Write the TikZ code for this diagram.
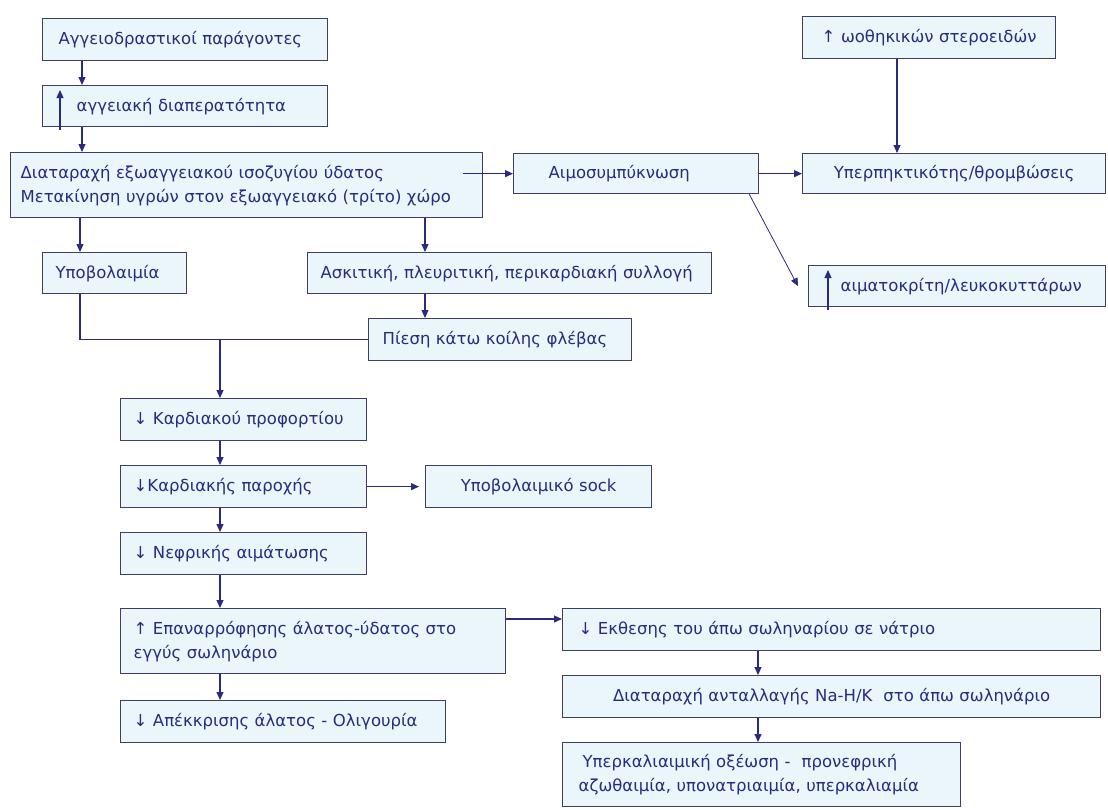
\documentclass[tikz,border=0pt]{standalone}
\usepackage{fontspec}
\setmainfont{DejaVu Sans}
\usetikzlibrary{arrows.meta}
\definecolor{boxfill}{HTML}{EAF6FA}
\definecolor{boxline}{HTML}{3E3E66}
\definecolor{navy}{HTML}{2A2A80}
\tikzset{
	box/.style={draw=boxline, fill=boxfill, line width=1.3pt, anchor=north west, align=left, text=navy, font=\fontsize{16.5}{24}\selectfont, inner xsep=4pt, inner ysep=0pt},
	flow/.style={draw=navy, line width=1.1pt, -{Triangle[length=8pt,width=7pt]}},
	joinline/.style={draw=navy, line width=1.1pt},
}

\begin{document}
\begin{tikzpicture}[x=1pt, y=-1pt]
	%%%%% START %%%%%
	\useasboundingbox[fill=white] (0,0) rectangle (1108,809);

	% upper chain
	\node[box, text width=277pt, minimum height=42pt] (vaso) at (42,18) {\hspace*{12pt}Αγγειοδραστικοί παράγοντες};
	\node[box, text width=277pt, minimum height=41pt] (perm) at (42,85) {\hspace*{30pt}αγγειακή διαπερατότητα};
	\node[box, text width=464pt, minimum height=65pt] (fluid) at (10,152) {\hspace*{6pt}Διαταραχή εξωαγγειακού ισοζυγίου ύδατος\\\hspace*{6pt}Μετακίνηση υγρών στον εξωαγγειακό (τρίτο) χώρο};
	\node[box, text width=237pt, minimum height=40pt] (hemo) at (513,153) {\hspace*{31pt}Αιμοσυμπύκνωση};
	\node[box, text width=245pt, minimum height=42pt, align=center] (ster) at (802,16) {↑ ωοθηκικών στεροειδών};
	\node[box, text width=295pt, minimum height=40pt, align=center] (thromb) at (802,153) {Υπερπηκτικότης/θρομβώσεις};
	\node[box, text width=289pt, minimum height=41pt] (hct) at (808,265) {\hspace*{28pt}αιματοκρίτη/λευκοκυττάρων};

	\node[box, text width=136pt, minimum height=41pt] (hypovol) at (42,252) {\hspace*{9pt}Υποβολαιμία};
	\node[box, text width=396pt, minimum height=41pt] (effus) at (307,252) {\hspace*{9pt}Ασκιτική, πλευριτική, περικαρδιακή συλλογή};
	\node[box, text width=255pt, minimum height=42pt] (ivc) at (368,318) {\hspace*{10pt}Πίεση κάτω κοίλης φλέβας};

	% lower chain
	\node[box, text width=238pt, minimum height=42pt] (preload) at (120,398) {\hspace*{9pt}↓ Καρδιακού προφορτίου};
	\node[box, text width=238pt, minimum height=42pt] (output) at (120,465) {\hspace*{9pt}↓Καρδιακής παροχής};
	\node[box, text width=218pt, minimum height=42pt, align=center] (shock) at (425,465) {Υποβολαιμικό sock};
	\node[box, text width=238pt, minimum height=42pt] (renal) at (120,532) {\hspace*{9pt}↓ Νεφρικής αιμάτωσης};
	\node[box, text width=377pt, minimum height=65pt] (reabs) at (120,608) {\hspace*{9pt}↑ Επαναρρόφησης άλατος-ύδατος στο\\\hspace*{9pt}εγγύς σωληνάριο};
	\node[box, text width=317pt, minimum height=42pt] (oligo) at (120,700) {\hspace*{9pt}↓ Απέκκρισης άλατος - Ολιγουρία};

	\node[box, text width=530pt, minimum height=42pt] (distal) at (562,608) {\hspace*{12pt}↓ Εκθεσης του άπω σωληναρίου σε νάτριο};
	\node[box, text width=530pt, minimum height=42pt, align=center] (exch) at (562,675) {Διαταραχή ανταλλαγής Na-H/K\ \ στο άπω σωληνάριο};
	\node[box, text width=390pt, minimum height=64pt] (hyperk) at (562,742) {\hspace*{16pt}Υπερκαλιαιμική οξέωση -\ \ προνεφρική\\\hspace*{12pt}αζωθαιμία, υπονατριαιμία, υπερκαλιαμία};

	% arrows
	\draw[flow] ([xshift=40pt]vaso.south west) -- ([xshift=40pt]perm.north west);
	\draw[flow] ([xshift=18pt,yshift=-3pt]perm.south west) -- ([xshift=18pt,yshift=-5pt]perm.north west);
	\draw[flow] ([xshift=40pt]perm.south west) -- ([xshift=40pt]perm.south west |- fluid.north);
	\draw[flow] ([xshift=-20pt]fluid.east |- hemo.west) -- (hemo.west);
	\draw[flow] (hemo.east) -- (thromb.west);
	\draw[flow] ([xshift=95pt]ster.south west) -- ([xshift=95pt]ster.south west |- thromb.north);
	\draw[flow, line width=0.8pt] ([xshift=-10pt]hemo.south east) -- ([xshift=-10pt]hct.west);
	\draw[flow] ([xshift=20pt,yshift=-3pt]hct.south west) -- ([xshift=20pt,yshift=-5pt]hct.north west);

	\draw[flow] ([xshift=38pt]hypovol.north west |- fluid.south) -- ([xshift=38pt]hypovol.north west);
	\draw[flow] ([xshift=118pt]effus.north west |- fluid.south) -- ([xshift=118pt]effus.north west);
	\draw[flow] ([xshift=118pt]effus.south west) -- ([xshift=118pt]effus.south west |- ivc.north);
	\draw[joinline] ([xshift=38pt]hypovol.south west) |- (ivc.west);
	\draw[flow] ([xshift=100pt]preload.north west |- ivc.west) -- ([xshift=100pt]preload.north west);

	\draw[flow] ([xshift=100pt]preload.south west) -- ([xshift=100pt]output.north west);
	\draw[flow] (output.east) -- ([xshift=-6pt]shock.west);
	\draw[flow] ([xshift=100pt]output.south west) -- ([xshift=100pt]renal.north west);
	\draw[flow] ([xshift=100pt]renal.south west) -- ([xshift=100pt]reabs.north west);
	\draw[flow] ([xshift=100pt]reabs.south west) -- ([xshift=100pt]oligo.north west);

	\draw[flow] ([yshift=-11pt]reabs.north east) -- ([yshift=-11pt]reabs.north east -| distal.west);
	\draw[flow] ([xshift=196pt]distal.south west) -- ([xshift=196pt]exch.north west);
	\draw[flow] ([xshift=196pt]exch.south west) -- ([xshift=196pt]hyperk.north west);

	%%%%% END %%%%%
\end{tikzpicture}
\end{document}
